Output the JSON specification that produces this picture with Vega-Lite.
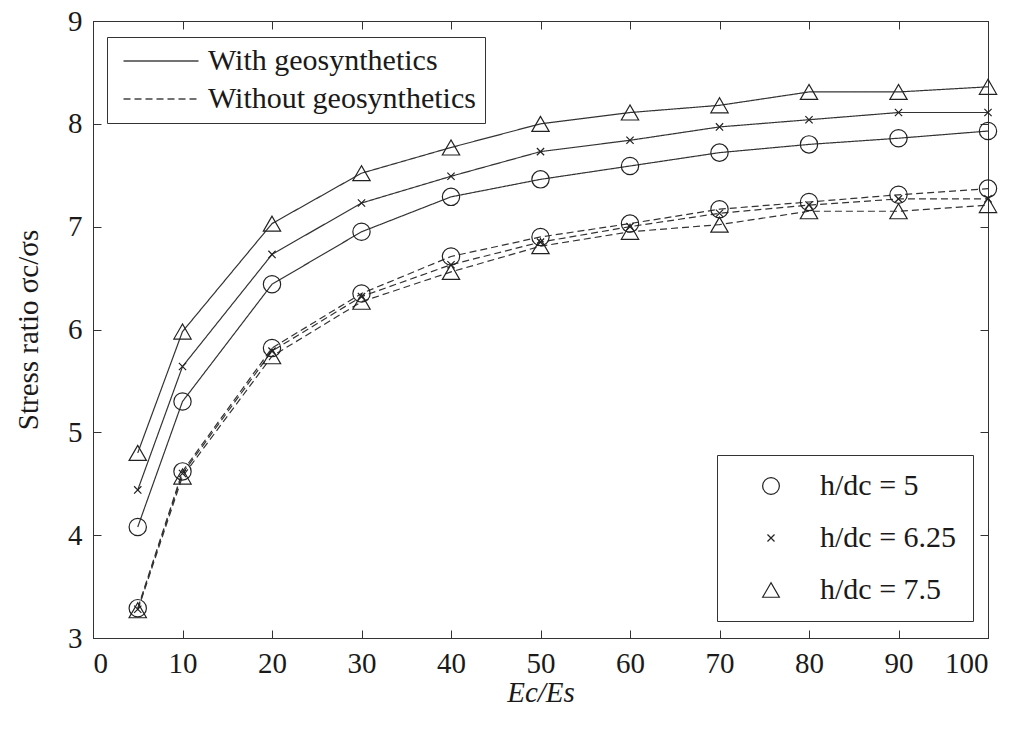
{
  "$schema": "https://vega.github.io/schema/vega-lite/v6.json",
  "width": 895,
  "height": 617,
  "autosize": {"type": "none"},
  "padding": {"left": 93, "top": 21, "right": 28, "bottom": 91},
  "background": "white",
  "config": {
    "view": {"stroke": "#333", "strokeWidth": 1},
    "font": "Liberation Serif",
    "axis": {
      "grid": false,
      "domainColor": "#333",
      "tickColor": "#333",
      "labelColor": "#1a1a1a",
      "titleColor": "#1a1a1a",
      "labelFont": "Liberation Serif",
      "titleFont": "Liberation Serif",
      "labelFontSize": 29,
      "titleFontSize": 29,
      "titleFontWeight": "normal",
      "tickSize": -8
    }
  },
  "data": {
    "values": [
      {"E": 5, "ratio": 4.08, "case": "With geosynthetics", "h": "5"},
      {"E": 10, "ratio": 5.30, "case": "With geosynthetics", "h": "5"},
      {"E": 20, "ratio": 6.44, "case": "With geosynthetics", "h": "5"},
      {"E": 30, "ratio": 6.95, "case": "With geosynthetics", "h": "5"},
      {"E": 40, "ratio": 7.29, "case": "With geosynthetics", "h": "5"},
      {"E": 50, "ratio": 7.46, "case": "With geosynthetics", "h": "5"},
      {"E": 60, "ratio": 7.59, "case": "With geosynthetics", "h": "5"},
      {"E": 70, "ratio": 7.72, "case": "With geosynthetics", "h": "5"},
      {"E": 80, "ratio": 7.80, "case": "With geosynthetics", "h": "5"},
      {"E": 90, "ratio": 7.86, "case": "With geosynthetics", "h": "5"},
      {"E": 100, "ratio": 7.93, "case": "With geosynthetics", "h": "5"},
      {"E": 5, "ratio": 4.44, "case": "With geosynthetics", "h": "6.25"},
      {"E": 10, "ratio": 5.64, "case": "With geosynthetics", "h": "6.25"},
      {"E": 20, "ratio": 6.73, "case": "With geosynthetics", "h": "6.25"},
      {"E": 30, "ratio": 7.23, "case": "With geosynthetics", "h": "6.25"},
      {"E": 40, "ratio": 7.49, "case": "With geosynthetics", "h": "6.25"},
      {"E": 50, "ratio": 7.73, "case": "With geosynthetics", "h": "6.25"},
      {"E": 60, "ratio": 7.84, "case": "With geosynthetics", "h": "6.25"},
      {"E": 70, "ratio": 7.97, "case": "With geosynthetics", "h": "6.25"},
      {"E": 80, "ratio": 8.04, "case": "With geosynthetics", "h": "6.25"},
      {"E": 90, "ratio": 8.11, "case": "With geosynthetics", "h": "6.25"},
      {"E": 100, "ratio": 8.11, "case": "With geosynthetics", "h": "6.25"},
      {"E": 5, "ratio": 4.80, "case": "With geosynthetics", "h": "7.5"},
      {"E": 10, "ratio": 5.98, "case": "With geosynthetics", "h": "7.5"},
      {"E": 20, "ratio": 7.03, "case": "With geosynthetics", "h": "7.5"},
      {"E": 30, "ratio": 7.52, "case": "With geosynthetics", "h": "7.5"},
      {"E": 40, "ratio": 7.77, "case": "With geosynthetics", "h": "7.5"},
      {"E": 50, "ratio": 8.00, "case": "With geosynthetics", "h": "7.5"},
      {"E": 60, "ratio": 8.11, "case": "With geosynthetics", "h": "7.5"},
      {"E": 70, "ratio": 8.18, "case": "With geosynthetics", "h": "7.5"},
      {"E": 80, "ratio": 8.31, "case": "With geosynthetics", "h": "7.5"},
      {"E": 90, "ratio": 8.31, "case": "With geosynthetics", "h": "7.5"},
      {"E": 100, "ratio": 8.36, "case": "With geosynthetics", "h": "7.5"},
      {"E": 5, "ratio": 3.29, "case": "Without geosynthetics", "h": "5"},
      {"E": 10, "ratio": 4.62, "case": "Without geosynthetics", "h": "5"},
      {"E": 20, "ratio": 5.82, "case": "Without geosynthetics", "h": "5"},
      {"E": 30, "ratio": 6.35, "case": "Without geosynthetics", "h": "5"},
      {"E": 40, "ratio": 6.71, "case": "Without geosynthetics", "h": "5"},
      {"E": 50, "ratio": 6.90, "case": "Without geosynthetics", "h": "5"},
      {"E": 60, "ratio": 7.03, "case": "Without geosynthetics", "h": "5"},
      {"E": 70, "ratio": 7.17, "case": "Without geosynthetics", "h": "5"},
      {"E": 80, "ratio": 7.24, "case": "Without geosynthetics", "h": "5"},
      {"E": 90, "ratio": 7.31, "case": "Without geosynthetics", "h": "5"},
      {"E": 100, "ratio": 7.37, "case": "Without geosynthetics", "h": "5"},
      {"E": 5, "ratio": 3.28, "case": "Without geosynthetics", "h": "6.25"},
      {"E": 10, "ratio": 4.60, "case": "Without geosynthetics", "h": "6.25"},
      {"E": 20, "ratio": 5.79, "case": "Without geosynthetics", "h": "6.25"},
      {"E": 30, "ratio": 6.32, "case": "Without geosynthetics", "h": "6.25"},
      {"E": 40, "ratio": 6.63, "case": "Without geosynthetics", "h": "6.25"},
      {"E": 50, "ratio": 6.85, "case": "Without geosynthetics", "h": "6.25"},
      {"E": 60, "ratio": 7.00, "case": "Without geosynthetics", "h": "6.25"},
      {"E": 70, "ratio": 7.13, "case": "Without geosynthetics", "h": "6.25"},
      {"E": 80, "ratio": 7.21, "case": "Without geosynthetics", "h": "6.25"},
      {"E": 90, "ratio": 7.27, "case": "Without geosynthetics", "h": "6.25"},
      {"E": 100, "ratio": 7.27, "case": "Without geosynthetics", "h": "6.25"},
      {"E": 5, "ratio": 3.27, "case": "Without geosynthetics", "h": "7.5"},
      {"E": 10, "ratio": 4.57, "case": "Without geosynthetics", "h": "7.5"},
      {"E": 20, "ratio": 5.74, "case": "Without geosynthetics", "h": "7.5"},
      {"E": 30, "ratio": 6.27, "case": "Without geosynthetics", "h": "7.5"},
      {"E": 40, "ratio": 6.56, "case": "Without geosynthetics", "h": "7.5"},
      {"E": 50, "ratio": 6.81, "case": "Without geosynthetics", "h": "7.5"},
      {"E": 60, "ratio": 6.95, "case": "Without geosynthetics", "h": "7.5"},
      {"E": 70, "ratio": 7.02, "case": "Without geosynthetics", "h": "7.5"},
      {"E": 80, "ratio": 7.15, "case": "Without geosynthetics", "h": "7.5"},
      {"E": 90, "ratio": 7.15, "case": "Without geosynthetics", "h": "7.5"},
      {"E": 100, "ratio": 7.21, "case": "Without geosynthetics", "h": "7.5"}
    ]
  },
  "encoding": {
    "x": {"field": "E", "type": "quantitative", "scale": {"domain": [0, 100], "nice": false, "zero": false}},
    "y": {"field": "ratio", "type": "quantitative", "scale": {"domain": [3, 9], "nice": false, "zero": false}}
  },
  "layer": [
    {
      "mark": {"type": "line", "color": "#333", "strokeWidth": 1.2},
      "encoding": {
        "x": {"field": "E", "type": "quantitative",
              "axis": {"orient": "bottom", "values": [0,10,20,30,40,50,60,70,80,90,100], "title": "Ec/Es", "titleFontStyle": "italic", "labelPadding": 19, "titlePadding": 0}},
        "y": {"field": "ratio", "type": "quantitative",
              "axis": {"orient": "left", "values": [3,4,5,6,7,8,9], "title": "Stress ratio σc/σs", "labelPadding": 19, "titlePadding": 24}},
        "detail": {"field": "h"},
        "strokeDash": {
          "field": "case", "type": "nominal",
          "scale": {"domain": ["With geosynthetics", "Without geosynthetics"], "range": [[1, 0], [7, 4]]},
          "legend": {
            "title": null, "orient": "none", "legendX": 14, "legendY": 16,
            "symbolType": "M-3,0L3,0", "symbolSize": 625, "symbolStrokeWidth": 1.4,
            "symbolStrokeColor": "#444", "symbolFillColor": "transparent",
            "symbolOffset": 30, "labelOffset": 32,
            "labelFont": "Liberation Serif", "labelFontSize": 30, "labelColor": "#1a1a1a",
            "labelLimit": 400, "rowPadding": 8, "padding": 9,
            "strokeColor": "#333", "fillColor": "white"
          }
        }
      }
    },
    {
      "mark": {"type": "point", "filled": false, "color": "#222", "strokeWidth": 1.2, "size": 300, "opacity": 1},
      "encoding": {
        "x": {"field": "E", "type": "quantitative", "axis": null},
        "y": {"field": "ratio", "type": "quantitative", "axis": null},
        "shape": {
          "field": "h", "type": "nominal",
          "scale": {"domain": ["5", "6.25", "7.5"], "range": ["circle", "M-0.42,-0.42L0.42,0.42M-0.42,0.42L0.42,-0.42", "triangle-up"]},
          "legend": {
            "title": null, "orient": "none", "legendX": 624, "legendY": 434,
            "symbolSize": 280, "symbolStrokeWidth": 1.2, "symbolStrokeColor": "#222", "symbolFillColor": "transparent",
            "symbolOffset": 23, "labelOffset": 34,
            "labelFont": "Liberation Serif", "labelFontSize": 30, "labelColor": "#1a1a1a",
            "labelExpr": "'h/dc = ' + datum.label",
            "rowPadding": 22, "padding": 16,
            "strokeColor": "#333", "fillColor": "white"
          }
        }
      }
    },
    {
      "mark": {"type": "point", "opacity": 0},
      "encoding": {
        "x": {"field": "E", "type": "quantitative",
              "axis": {"orient": "top", "values": [0,10,20,30,40,50,60,70,80,90,100], "labels": false, "title": null}},
        "y": {"field": "ratio", "type": "quantitative",
              "axis": {"orient": "right", "values": [3,4,5,6,7,8,9], "labels": false, "title": null}}
      }
    }
  ],
  "resolve": {"axis": {"x": "independent", "y": "independent"}}
}
